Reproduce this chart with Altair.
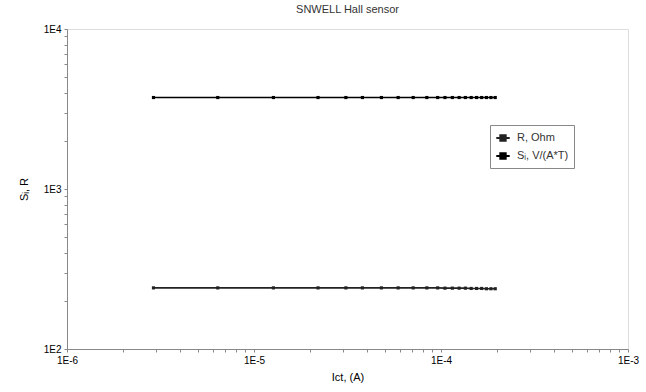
import altair as alt
import pandas as pd

# measured current values (A)
current = [2.9e-6, 6.4e-6, 1.27e-5, 2.2e-5, 3.1e-5, 3.8e-5, 4.8e-5, 5.9e-5, 7.1e-5,
           8.4e-5, 9.6e-5, 1.05e-4, 1.15e-4, 1.25e-4, 1.35e-4, 1.45e-4, 1.55e-4,
           1.65e-4, 1.75e-4, 1.85e-4, 1.95e-4]
resistance = [241, 241, 241, 241, 241, 241, 241, 241, 241, 241, 241,
              240, 240, 240, 240, 239, 239, 239, 238, 238, 238]
sensitivity = [3730, 3730, 3730, 3730, 3730, 3730, 3730, 3730, 3730, 3730, 3730,
               3730, 3730, 3730, 3730, 3730, 3730, 3730, 3730, 3730, 3730]
series_names = ["R,  Ohm", "Sᵢ, V/(A*T)"]

x_ticks = [m * 10.0 ** e for e in (-6, -5, -4) for m in range(1, 10)] + [1e-3]
y_ticks = [m * 10.0 ** e for e in (2, 3) for m in range(1, 10)] + [1e4]

rows = []
for xv, rv, sv in zip(current, resistance, sensitivity):
    rows.append({"x": xv, "y": rv, "series": series_names[0]})
    rows.append({"x": xv, "y": sv, "series": series_names[1]})
df = pd.DataFrame(rows)

label_expr = ("abs(log(datum.value)/LN10 - round(log(datum.value)/LN10)) < 0.001 ? "
              "'1E' + round(log(datum.value)/LN10) : ''")

legend_symbol = "M-1,0L1,0M-0.4,-0.4L0.4,-0.4L0.4,0.4L-0.4,0.4Z"

chart = alt.Chart(df).mark_line(
    strokeWidth=1.6,
    point=alt.OverlayMarkDef(shape="square", size=10, filled=True),
).encode(
    x=alt.X("x:Q", scale=alt.Scale(type="log", domain=[1e-6, 1e-3], nice=False),
            axis=alt.Axis(title="Ict, (A)", values=x_ticks, labelExpr=label_expr,
                          grid=False, tickSize=3, labelPadding=3, titlePadding=6,
                          labelFlush=False, titleFontWeight="normal")),
    y=alt.Y("y:Q", scale=alt.Scale(type="log", domain=[100, 10000], nice=False),
            axis=alt.Axis(title="Sᵢ, R", values=y_ticks, labelExpr=label_expr,
                          grid=False, tickSize=3, labelPadding=3, titlePadding=14,
                          titleFontWeight="normal")),
    color=alt.Color("series:N",
                    scale=alt.Scale(domain=series_names, range=["#222222", "#000000"]),
                    legend=alt.Legend(title=None, orient="none", legendX=423, legendY=96,
                                      symbolType=legend_symbol, symbolSize=180,
                                      symbolStrokeWidth=2, symbolFillColor="#111111",
                                      strokeColor="#888888", padding=5,
                                      labelFontSize=11, labelColor="#333333",
                                      labelFont="Liberation Sans", rowPadding=3,
                                      labelOffset=6)),
    detail="series:N",
).properties(
    width=561,
    height=320,
    title=alt.TitleParams("SNWELL Hall sensor", fontSize=11, fontWeight="normal",
                          font="Liberation Sans", color="#333333", offset=9),
    padding={"left": 67, "top": 29, "right": 18, "bottom": 43},
    autosize=alt.AutoSizeParams(type="none"),
).configure_view(
    stroke="#aaaaaa", strokeWidth=2
).configure_axis(
    domainColor="#aaaaaa", domainWidth=2, tickColor="#999999",
    labelFont="Liberation Sans", labelFontSize=10, labelColor="#444444",
    titleFont="Liberation Sans", titleFontSize=11,
    titleColor="#444444",
).configure(background="white")

chart.save("out.html", embed_options={"renderer": "svg", "actions": False})
